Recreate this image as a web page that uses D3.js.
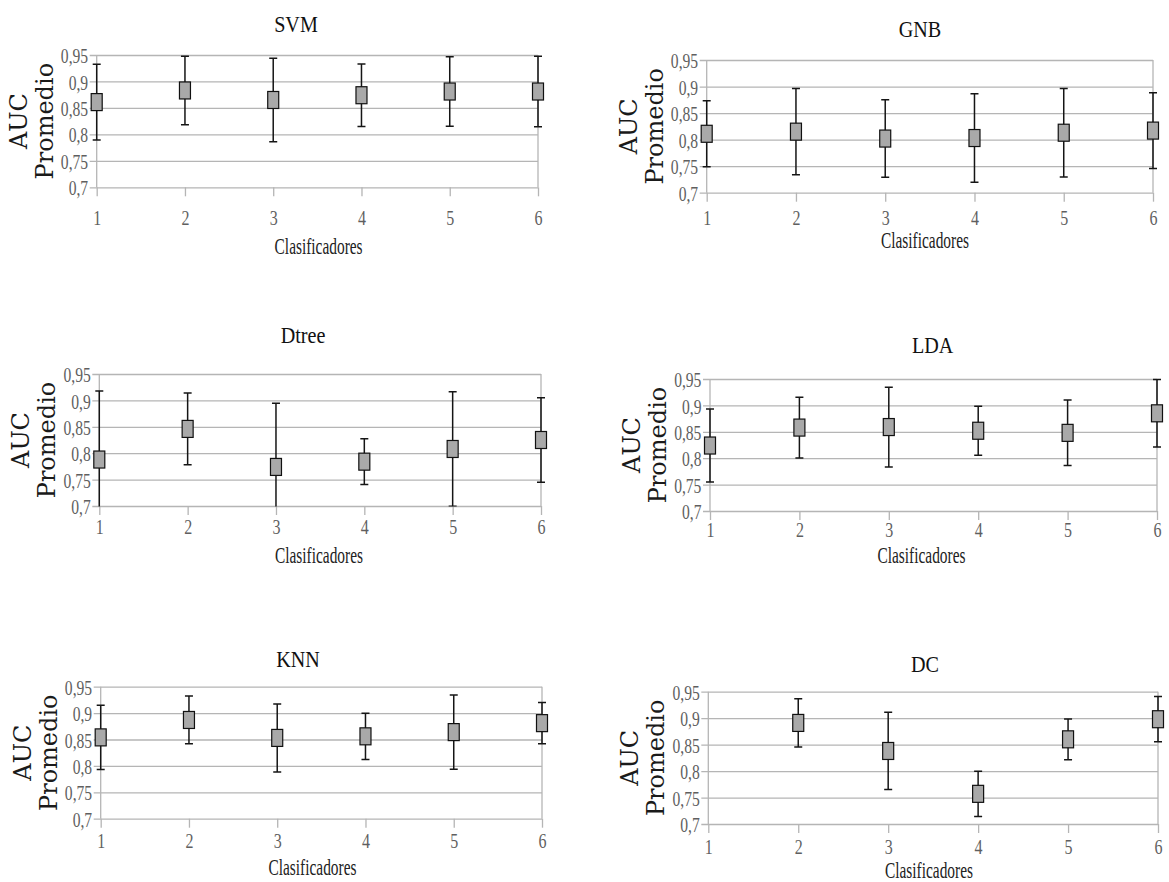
<!DOCTYPE html>
<html>
<head>
<meta charset="utf-8">
<script src="https://cdn.jsdelivr.net/npm/d3@7"></script>
<style>
  body { margin: 0; background: #fff; }
  svg { display: block; }
</style>
</head>
<body>
<div id="chart"></div>
<script>
// Data: mean AUC and standard deviation per classifier
const clasificadores = [1, 2, 3, 4, 5, 6];
const yTicks = [0.7, 0.75, 0.8, 0.85, 0.9, 0.95];
const yTickLabels = ["0,7", "0,75", "0,8", "0,85", "0,9", "0,95"];

const svmMean = [0.861, 0.883, 0.865, 0.874, 0.881, 0.881];
const svmStd = [0.0715, 0.0646, 0.079, 0.059, 0.0655, 0.0665];

const gnbMean = [0.811, 0.815, 0.802, 0.803, 0.813, 0.817];
const gnbStd = [0.0623, 0.0813, 0.0731, 0.0835, 0.0835, 0.0715];

const dtreeMean = [0.788, 0.846, 0.774, 0.784, 0.808, 0.825];
const dtreeStd = [0.130, 0.068, 0.1206, 0.0433, 0.1085, 0.0798];

const ldaMean = [0.824, 0.858, 0.859, 0.852, 0.848, 0.885];
const ldaStd = [0.069, 0.0574, 0.0755, 0.0464, 0.062, 0.064];

const knnMean = [0.854, 0.887, 0.853, 0.856, 0.864, 0.881];
const knnStd = [0.061, 0.0452, 0.0644, 0.0437, 0.0703, 0.039];

const dcMean = [null, 0.891, 0.838, 0.757, 0.860, 0.898];
const dcStd = [null, 0.0457, 0.073, 0.0428, 0.0384, 0.0428];

const titles = ["SVM", "GNB", "Dtree", "LDA", "KNN", "DC"];
const means = [svmMean, gnbMean, dtreeMean, ldaMean, knnMean, dcMean];
const stds = [svmStd, gnbStd, dtreeStd, ldaStd, knnStd, dcStd];

// Where each small chart sits on the page
const layout = [
  { left: 96.7, right: 538, top: 55, bottom: 187.3, titleX: 296, titleY: 31.7, tickY: 224.7, labelX: 318.6, labelY: 254 },
  { left: 706.7, right: 1153, top: 60, bottom: 192.7, titleX: 920, titleY: 36.7, tickY: 225, labelX: 925, labelY: 248.3 },
  { left: 99.3, right: 541, top: 374, bottom: 506, titleX: 303, titleY: 342.7, tickY: 534, labelX: 319, labelY: 563.3 },
  { left: 710, right: 1157, top: 379, bottom: 511, titleX: 932.6, titleY: 353.3, tickY: 536.7, labelX: 921.5, labelY: 563.3 },
  { left: 100.7, right: 542, top: 686.7, bottom: 818.7, titleX: 298, titleY: 667.3, tickY: 848.3, labelX: 312.5, labelY: 875 },
  { left: 708.3, right: 1158, top: 691.7, bottom: 824, titleX: 925, titleY: 672.3, tickY: 854, labelX: 929, labelY: 878 }
];

const gridColor = "#b5b5b5";
const serif = "'Liberation Serif', 'Times New Roman', serif";

const svg = d3.select("#chart")
  .append("svg")
  .attr("width", 1169)
  .attr("height", 882);

svg.append("rect")
  .attr("width", 1169)
  .attr("height", 882)
  .attr("fill", "#fff");

titles.forEach(function (title, i) {
  const box = layout[i];
  const w = box.right - box.left;

  const x = d3.scaleLinear().domain([1, 6]).range([box.left, box.right]);
  const y = d3.scaleLinear().domain([0.7, 0.95]).range([box.bottom, box.top]);

  const g = svg.append("g");

  // Horizontal gridlines + y tick labels
  const yAxis = g.append("g")
    .attr("transform", "translate(" + box.left + ",0)")
    .call(d3.axisLeft(y)
      .tickValues(yTicks)
      .tickFormat((d, k) => yTickLabels[k])
      .tickSizeOuter(0));

  yAxis.select(".domain").remove();
  yAxis.selectAll(".tick line")
    .attr("x1", -7)
    .attr("x2", w)
    .attr("stroke", gridColor)
    .attr("stroke-width", 1.3);
  yAxis.selectAll(".tick text")
    .attr("x", -11)
    .attr("dy", "0.38em")
    .attr("transform", "scale(0.78,1)")
    .style("font-family", serif)
    .style("font-size", "20px")
    .attr("fill", "#5f5f5f");

  // Category ticks along the bottom
  const xAxis = g.append("g")
    .attr("transform", "translate(0," + box.bottom + ")")
    .call(d3.axisBottom(x)
      .tickValues(clasificadores)
      .tickFormat(d3.format("d"))
      .tickSizeOuter(0)
      .tickSize(9));

  xAxis.select(".domain").remove();
  xAxis.selectAll(".tick line")
    .attr("stroke", gridColor)
    .attr("stroke-width", 1.3);
  xAxis.selectAll(".tick text")
    .attr("y", box.tickY - box.bottom)
    .attr("dy", 0)
    .attr("transform", "scale(0.8,1)")
    .style("font-family", serif)
    .style("font-size", "20px")
    .attr("fill", "#5f5f5f");

  // Left axis and right border
  g.selectAll(".edge")
    .data([1, 6])
    .enter()
    .append("line")
    .attr("class", "edge")
    .attr("x1", d => x(d))
    .attr("x2", d => x(d))
    .attr("y1", box.top)
    .attr("y2", box.bottom)
    .attr("stroke", gridColor)
    .attr("stroke-width", 1.3);

  // Clip error bars to the plot area
  const clipId = "clip" + i;
  svg.append("clipPath")
    .attr("id", clipId)
    .append("rect")
    .attr("x", box.left - 20)
    .attr("y", box.top - 10)
    .attr("width", w + 40)
    .attr("height", box.bottom - box.top + 10.5);

  const points = clasificadores
    .map((c, k) => ({ c: c, mean: means[i][k], sd: stds[i][k] }))
    .filter(d => d.mean !== null);

  const bars = g.append("g").attr("clip-path", "url(#" + clipId + ")");

  bars.selectAll(".err")
    .data(points)
    .enter()
    .append("line")
    .attr("x1", d => x(d.c))
    .attr("x2", d => x(d.c))
    .attr("y1", d => y(d.mean + d.sd))
    .attr("y2", d => y(d.mean - d.sd))
    .attr("stroke", "#151515")
    .attr("stroke-width", 1.5);

  [1, -1].forEach(function (sign) {
    bars.selectAll(".cap" + sign)
      .data(points)
      .enter()
      .append("line")
      .attr("x1", d => x(d.c) - 4)
      .attr("x2", d => x(d.c) + 4)
      .attr("y1", d => y(d.mean + sign * d.sd))
      .attr("y2", d => y(d.mean + sign * d.sd))
      .attr("stroke", "#151515")
      .attr("stroke-width", 1.5);
  });

  // Square markers
  g.selectAll(".mark")
    .data(points)
    .enter()
    .append("rect")
    .attr("x", d => x(d.c) - 5.5)
    .attr("y", d => y(d.mean) - 8.5)
    .attr("width", 11)
    .attr("height", 17)
    .attr("fill", "#a9a9a9")
    .attr("stroke", "#111")
    .attr("stroke-width", 1.2);

  // Title
  g.append("text")
    .attr("transform", "translate(" + box.titleX + "," + box.titleY + ") scale(0.84,1)")
    .attr("text-anchor", "middle")
    .style("font-family", serif)
    .style("font-size", "24px")
    .attr("fill", "#111")
    .text(title);

  // X axis title
  g.append("text")
    .attr("x", box.labelX)
    .attr("y", box.labelY)
    .attr("text-anchor", "middle")
    .attr("textLength", 88)
    .attr("lengthAdjust", "spacingAndGlyphs")
    .style("font-family", serif)
    .style("font-size", "24px")
    .attr("fill", "#222")
    .text("Clasificadores");

  // Y axis title on two lines
  const midY = (box.top + box.bottom) / 2;
  [["AUC", 70], ["Promedio", 44]].forEach(function (line) {
    g.append("text")
      .attr("transform", "translate(" + (box.left - line[1]) + "," + midY + ") rotate(-90)")
      .attr("text-anchor", "middle")
      .style("font-family", "'DejaVu Serif', serif")
      .style("font-size", "24px")
      .attr("fill", "#1a1a1a")
      .text(line[0]);
  });
});
</script>
</body>
</html>
